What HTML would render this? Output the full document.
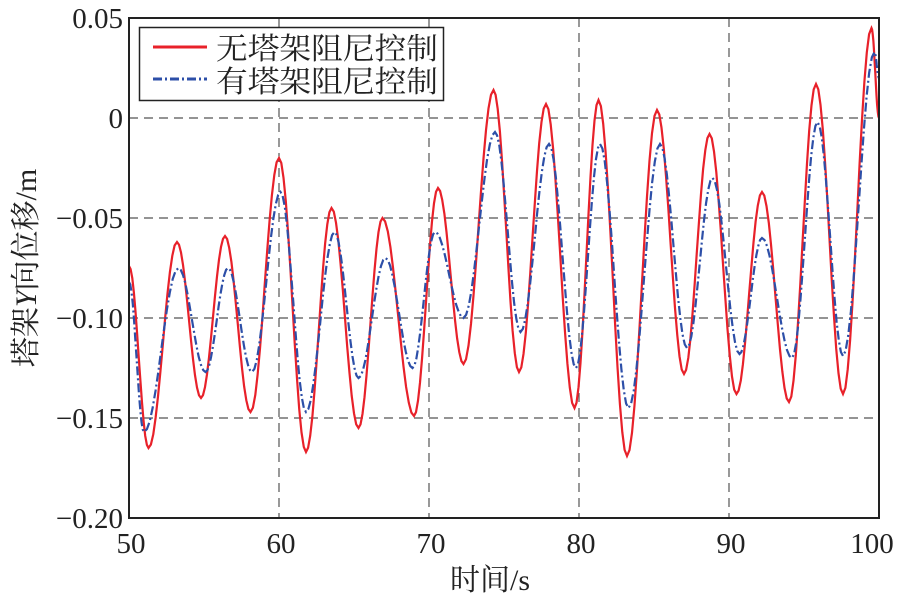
<!DOCTYPE html>
<html><head><meta charset="utf-8"><style>
body{margin:0;background:#fff;}
svg text{font-family:"Liberation Serif","Noto Serif CJK SC",serif;fill:#222;}
</style></head><body>
<svg id="s" width="902" height="596" viewBox="0 0 902 596" xmlns="http://www.w3.org/2000/svg">
<g stroke="#555" stroke-width="1.2" stroke-dasharray="9,6" fill="none">
<line x1="129" y1="118" x2="879" y2="118"/><line x1="129" y1="218" x2="879" y2="218"/>
<line x1="129" y1="318" x2="879" y2="318"/><line x1="129" y1="418" x2="879" y2="418"/>
<line x1="279" y1="18" x2="279" y2="518"/><line x1="429" y1="18" x2="429" y2="518"/>
<line x1="579" y1="18" x2="579" y2="518"/><line x1="729" y1="18" x2="729" y2="518"/>
</g>
<path id="red" fill="none" stroke="#e8212a" stroke-width="2.2"/>
<path id="blue" fill="none" stroke="#2d4fa8" stroke-width="2.2" stroke-dasharray="9,3,2,3"/>
<rect x="129" y="18" width="750" height="500" fill="none" stroke="#222" stroke-width="2"/>
<rect x="139.5" y="27.5" width="304" height="73" fill="#fff" stroke="#222" stroke-width="1.5"/>
<line x1="153" y1="47" x2="207" y2="47" stroke="#e8212a" stroke-width="3"/>
<line x1="153" y1="79" x2="207" y2="79" stroke="#2d4fa8" stroke-width="3" stroke-dasharray="9,3,2,3"/>
<text x="216" y="59" font-size="30" textLength="222" lengthAdjust="spacingAndGlyphs">无塔架阻尼控制</text>
<text x="216" y="92" font-size="30" textLength="222" lengthAdjust="spacingAndGlyphs">有塔架阻尼控制</text>
<g font-size="29" text-anchor="end">
<text x="123" y="28">0.05</text><text x="123" y="128">0</text><text x="123" y="228">−0.05</text>
<text x="123" y="328">−0.10</text><text x="123" y="428">−0.15</text><text x="123" y="528">−0.20</text>
</g>
<g font-size="29" text-anchor="middle">
<text x="131" y="553">50</text><text x="281" y="553">60</text><text x="431" y="553">70</text>
<text x="581" y="553">80</text><text x="731" y="553">90</text><text x="872" y="553">100</text>
<text x="490" y="590" font-size="30">时间/s</text>
</g>
<text transform="translate(36,268) rotate(-90)" font-size="30" text-anchor="middle">塔架<tspan font-style="italic">Y</tspan>向位移/m</text>
</svg>
<script>
function X(t){return 129+(t-50)*15}function Y(v){return 118-v*2000}
function build(p){var d="";for(var i=0;i<p.length-1;i++){var a=p[i],b=p[i+1];for(var k=0;k<=12;k++){if(i>0&&k==0)continue;var f=k/12,t=a[0]+(b[0]-a[0])*f,w=(1-Math.cos(Math.PI*f))/2,v=a[1]+(b[1]-a[1])*w;d+=(d?"L":"M")+X(t).toFixed(1)+","+Y(v).toFixed(1);}}return d;}
var r=[[50,-.074],[51.3,-.165],[53.2,-.062],[54.8,-.14],[56.4,-.059],[58.1,-.147],[60,-.02],[61.8,-.167],[63.5,-.045],[65.3,-.155],[66.9,-.05],[69,-.149],[70.6,-.035],[72.3,-.123],[74.3,.014],[76,-.127],[77.8,.007],[79.7,-.145],[81.3,.009],[83.2,-.169],[85.2,.004],[87,-.128],[88.7,-.008],[90.5,-.138],[92.2,-.037],[94,-.142],[95.8,.017],[97.6,-.138],[99.5,.045],[100,0]];
var b=[[50,-.082],[51,-.157],[53.3,-.075],[55.1,-.127],[56.6,-.075],[58.2,-.127],[60.1,-.037],[61.8,-.147],[63.7,-.057],[65.3,-.13],[67.1,-.07],[68.9,-.125],[70.4,-.057],[72.3,-.1],[74.4,-.007],[76.1,-.107],[78,-.013],[79.8,-.125],[81.4,-.013],[83.3,-.145],[85.4,-.013],[87.2,-.115],[88.9,-.03],[90.7,-.118],[92.2,-.06],[94.2,-.12],[95.9,-.002],[97.6,-.119],[99.7,.033],[100,.02]];
document.getElementById("red").setAttribute("d",build(r));
document.getElementById("blue").setAttribute("d",build(b));
</script>
</body></html>
